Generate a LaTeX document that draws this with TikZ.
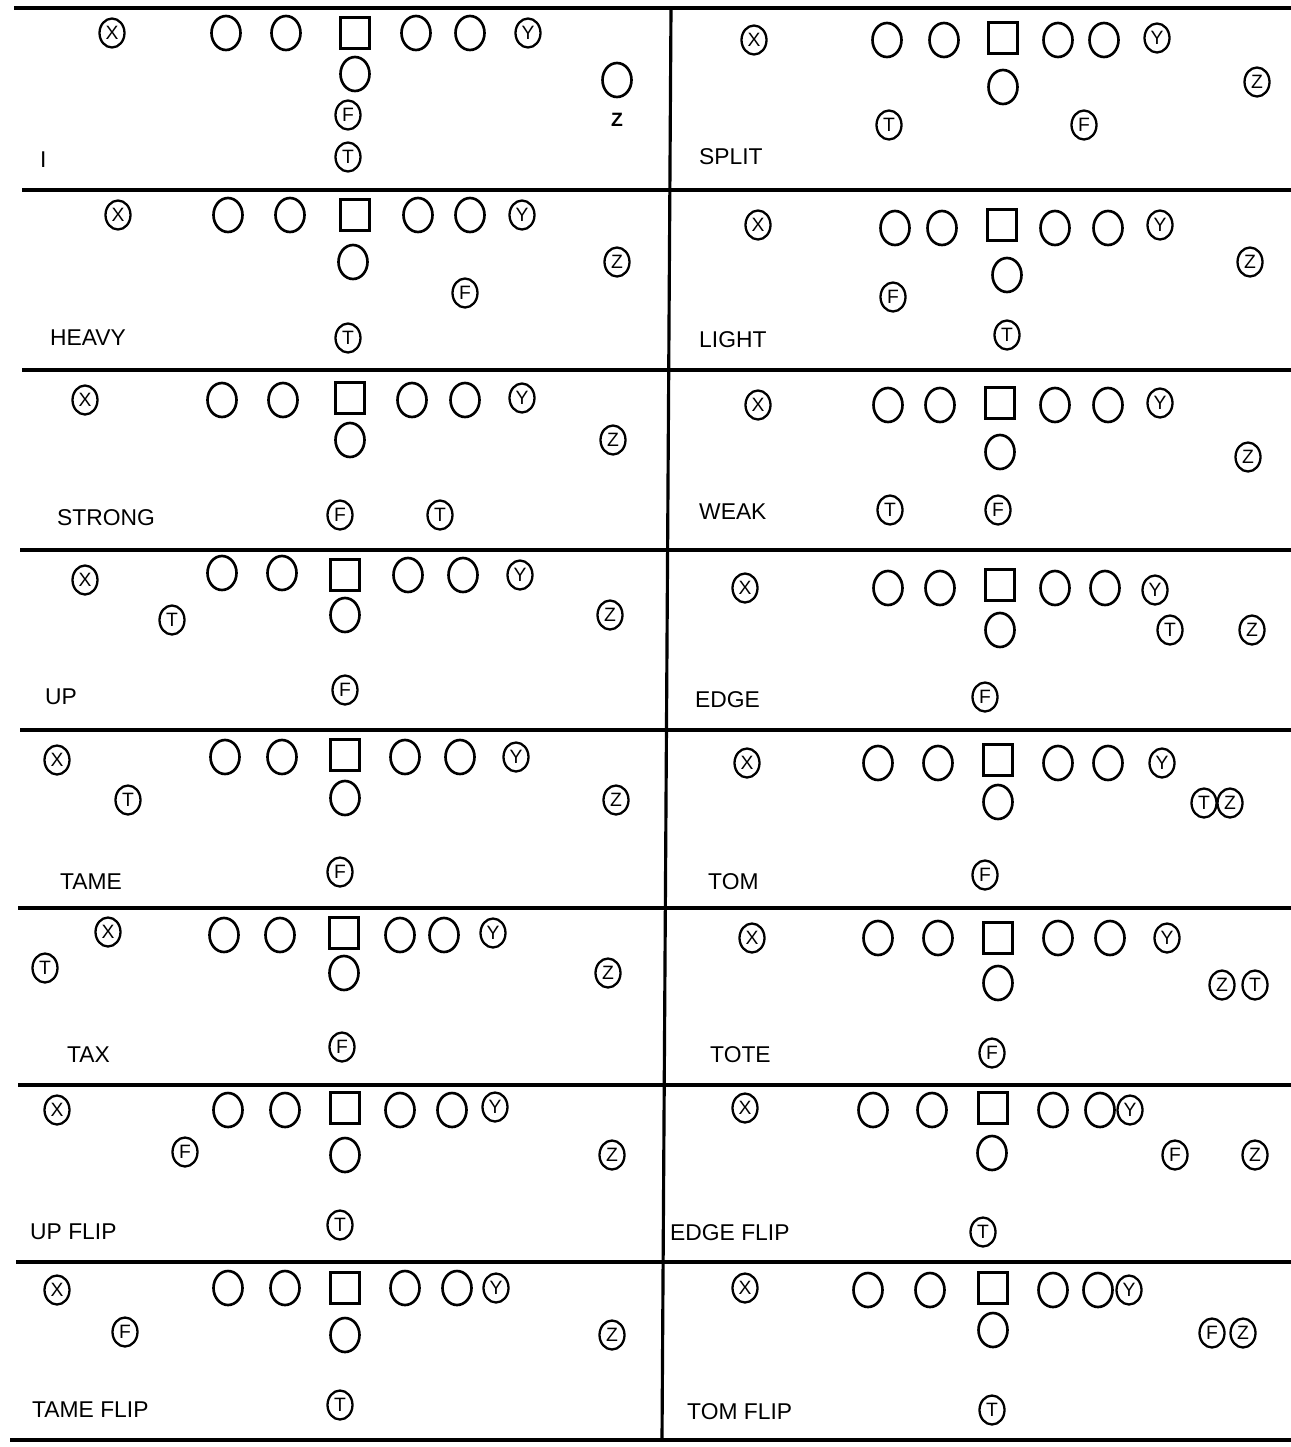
\documentclass[tikz,border=0pt]{standalone}
\usepackage{fontspec}
\setmainfont{Liberation Sans}
\usetikzlibrary{shapes.geometric}

\begin{document}
\begin{tikzpicture}[x=0.02cm, y=-0.02cm,
  lineman/.style={ellipse, draw, line width=1.5pt, minimum width=0.58cm, minimum height=0.68cm, inner sep=0pt},
  snap/.style={rectangle, draw, line width=1.5pt, minimum width=0.58cm, minimum height=0.62cm, inner sep=0pt},
  back/.style={ellipse, draw, line width=1.3pt, minimum width=0.5cm, minimum height=0.58cm, inner sep=0pt, font=\fontsize{11}{11}\selectfont},
  formation/.style={anchor=west, font=\fontsize{13}{13}\selectfont},
  yardline/.style={line width=1.8pt}
]
\useasboundingbox (0,0) rectangle (1291,1447);

% grid
\draw [yardline] (14,8) -- (1291,8);
\draw [yardline] (22,190) -- (1291,190);
\draw [yardline] (22,370) -- (1291,370);
\draw [yardline] (20,550) -- (1291,550);
\draw [yardline] (20,730) -- (1291,730);
\draw [yardline] (18,908) -- (1291,908);
\draw [yardline] (18,1085) -- (1291,1085);
\draw [yardline] (16,1262) -- (1291,1262);
\draw [yardline] (10,1440) -- (1291,1440);
\draw [yardline] (671,8) -- (662,1440);

% I
\node [back] (Ix) at (112,33) {X};
\node [lineman] (Ilt) at (226,33) {};
\node [lineman] (Ilg) at (286,33) {};
\node [snap] (Ic) at (355,33) {};
\node [lineman] (Irg) at (416,33) {};
\node [lineman] (Irt) at (470,33) {};
\node [back] (Iy) at (528,33) {Y};
\node [lineman] (Iq) at (355,74) {};
\node [back] (If) at (348,115) {F};
\node [back] (It) at (348,157) {T};
\node [lineman] (Iz) at (617,80) {};
\node [font=\bfseries\fontsize{11}{11}\selectfont] (Iztag) at (617,120) {Z};
\node [formation] (Iname) at (34,160) {I};

% SPLIT
\node [back] (splitx) at (754,40) {X};
\node [lineman] (splitlt) at (887,40) {};
\node [lineman] (splitlg) at (944,40) {};
\node [snap] (splitc) at (1003,38) {};
\node [lineman] (splitrg) at (1058,40) {};
\node [lineman] (splitrt) at (1104,40) {};
\node [back] (splity) at (1157,38) {Y};
\node [lineman] (splitq) at (1003,87) {};
\node [back] (splitz) at (1257,82) {Z};
\node [back] (splitt) at (889,125) {T};
\node [back] (splitf) at (1084,125) {F};
\node [formation] (splitname) at (693,157) {SPLIT};

% HEAVY
\node [back] (heavyx) at (118,215) {X};
\node [lineman] (heavylt) at (228,215) {};
\node [lineman] (heavylg) at (290,215) {};
\node [snap] (heavyc) at (355,215) {};
\node [lineman] (heavyrg) at (418,215) {};
\node [lineman] (heavyrt) at (470,215) {};
\node [back] (heavyy) at (522,215) {Y};
\node [lineman] (heavyq) at (353,262) {};
\node [back] (heavyz) at (617,262) {Z};
\node [back] (heavyf) at (465,293) {F};
\node [back] (heavyt) at (348,338) {T};
\node [formation] (heavyname) at (44,338) {HEAVY};

% LIGHT
\node [back] (lightx) at (758,225) {X};
\node [lineman] (lightlt) at (895,228) {};
\node [lineman] (lightlg) at (942,228) {};
\node [snap] (lightc) at (1002,225) {};
\node [lineman] (lightrg) at (1055,228) {};
\node [lineman] (lightrt) at (1108,228) {};
\node [back] (lighty) at (1160,225) {Y};
\node [lineman] (lightq) at (1007,275) {};
\node [back] (lightz) at (1250,262) {Z};
\node [back] (lightf) at (893,297) {F};
\node [back] (lightt) at (1007,335) {T};
\node [formation] (lightname) at (693,340) {LIGHT};

% STRONG
\node [back] (strongx) at (85,400) {X};
\node [lineman] (stronglt) at (222,400) {};
\node [lineman] (stronglg) at (283,400) {};
\node [snap] (strongc) at (350,398) {};
\node [lineman] (strongrg) at (412,400) {};
\node [lineman] (strongrt) at (465,400) {};
\node [back] (strongy) at (522,398) {Y};
\node [lineman] (strongq) at (350,440) {};
\node [back] (strongz) at (613,440) {Z};
\node [back] (strongf) at (340,515) {F};
\node [back] (strongt) at (440,515) {T};
\node [formation] (strongname) at (51,518) {STRONG};

% WEAK
\node [back] (weakx) at (758,405) {X};
\node [lineman] (weaklt) at (888,405) {};
\node [lineman] (weaklg) at (940,405) {};
\node [snap] (weakc) at (1000,403) {};
\node [lineman] (weakrg) at (1055,405) {};
\node [lineman] (weakrt) at (1108,405) {};
\node [back] (weaky) at (1160,403) {Y};
\node [lineman] (weakq) at (1000,452) {};
\node [back] (weakz) at (1248,457) {Z};
\node [back] (weakt) at (890,510) {T};
\node [back] (weakf) at (998,510) {F};
\node [formation] (weakname) at (693,512) {WEAK};

% UP
\node [back] (upx) at (85,580) {X};
\node [lineman] (uplt) at (222,573) {};
\node [lineman] (uplg) at (282,573) {};
\node [snap] (upc) at (345,575) {};
\node [lineman] (uprg) at (408,575) {};
\node [lineman] (uprt) at (463,575) {};
\node [back] (upy) at (520,575) {Y};
\node [back] (upt) at (172,620) {T};
\node [lineman] (upq) at (345,615) {};
\node [back] (upz) at (610,615) {Z};
\node [back] (upf) at (345,690) {F};
\node [formation] (upname) at (39,697) {UP};

% EDGE
\node [back] (edgex) at (745,588) {X};
\node [lineman] (edgelt) at (888,588) {};
\node [lineman] (edgelg) at (940,588) {};
\node [snap] (edgec) at (1000,585) {};
\node [lineman] (edgerg) at (1055,588) {};
\node [lineman] (edgert) at (1105,588) {};
\node [back] (edgey) at (1155,590) {Y};
\node [lineman] (edgeq) at (1000,630) {};
\node [back] (edget) at (1170,630) {T};
\node [back] (edgez) at (1252,630) {Z};
\node [back] (edgef) at (985,697) {F};
\node [formation] (edgename) at (689,700) {EDGE};

% TAME
\node [back] (tamex) at (57,760) {X};
\node [lineman] (tamelt) at (225,757) {};
\node [lineman] (tamelg) at (282,757) {};
\node [snap] (tamec) at (345,755) {};
\node [lineman] (tamerg) at (405,757) {};
\node [lineman] (tamert) at (460,757) {};
\node [back] (tamey) at (516,757) {Y};
\node [back] (tamet) at (128,800) {T};
\node [lineman] (tameq) at (345,798) {};
\node [back] (tamez) at (616,800) {Z};
\node [back] (tamef) at (340,872) {F};
\node [formation] (tamename) at (54,882) {TAME};

% TOM
\node [back] (tomx) at (747,763) {X};
\node [lineman] (tomlt) at (878,763) {};
\node [lineman] (tomlg) at (938,763) {};
\node [snap] (tomc) at (998,760) {};
\node [lineman] (tomrg) at (1058,763) {};
\node [lineman] (tomrt) at (1108,763) {};
\node [back] (tomy) at (1162,763) {Y};
\node [lineman] (tomq) at (998,802) {};
\node [back] (tomt) at (1204,803) {T};
\node [back] (tomz) at (1230,803) {Z};
\node [back] (tomf) at (985,875) {F};
\node [formation] (tomname) at (702,882) {TOM};

% TAX
\node [back] (taxx) at (108,932) {X};
\node [lineman] (taxlt) at (224,935) {};
\node [lineman] (taxlg) at (280,935) {};
\node [snap] (taxc) at (344,933) {};
\node [lineman] (taxrg) at (400,935) {};
\node [lineman] (taxrt) at (444,935) {};
\node [back] (taxy) at (493,933) {Y};
\node [back] (taxt) at (45,968) {T};
\node [lineman] (taxq) at (344,973) {};
\node [back] (taxz) at (608,973) {Z};
\node [back] (taxf) at (342,1047) {F};
\node [formation] (taxname) at (61,1055) {TAX};

% TOTE
\node [back] (totex) at (752,938) {X};
\node [lineman] (totelt) at (878,938) {};
\node [lineman] (totelg) at (938,938) {};
\node [snap] (totec) at (998,938) {};
\node [lineman] (toterg) at (1058,938) {};
\node [lineman] (totert) at (1110,938) {};
\node [back] (totey) at (1167,938) {Y};
\node [lineman] (toteq) at (998,983) {};
\node [back] (totez) at (1222,985) {Z};
\node [back] (totet) at (1255,985) {T};
\node [back] (totef) at (992,1053) {F};
\node [formation] (totename) at (704,1055) {TOTE};

% UP FLIP
\node [back] (upflipx) at (57,1110) {X};
\node [lineman] (upfliplt) at (228,1110) {};
\node [lineman] (upfliplg) at (285,1110) {};
\node [snap] (upflipc) at (345,1108) {};
\node [lineman] (upfliprg) at (400,1110) {};
\node [lineman] (upfliprt) at (452,1110) {};
\node [back] (upflipy) at (495,1107) {Y};
\node [back] (upflipf) at (185,1152) {F};
\node [lineman] (upflipq) at (345,1155) {};
\node [back] (upflipz) at (612,1155) {Z};
\node [back] (upflipt) at (340,1225) {T};
\node [formation] (upflipname) at (24,1232) {UP FLIP};

% EDGE FLIP
\node [back] (edgeflipx) at (745,1108) {X};
\node [lineman] (edgefliplt) at (873,1110) {};
\node [lineman] (edgefliplg) at (932,1110) {};
\node [snap] (edgeflipc) at (993,1108) {};
\node [lineman] (edgefliprg) at (1053,1110) {};
\node [lineman] (edgefliprt) at (1100,1110) {};
\node [back] (edgeflipy) at (1130,1110) {Y};
\node [lineman] (edgeflipq) at (992,1153) {};
\node [back] (edgeflipf) at (1175,1155) {F};
\node [back] (edgeflipz) at (1255,1155) {Z};
\node [back] (edgeflipt) at (983,1232) {T};
\node [formation] (edgeflipname) at (664,1233) {EDGE FLIP};

% TAME FLIP
\node [back] (tameflipx) at (57,1290) {X};
\node [lineman] (tamefliplt) at (228,1288) {};
\node [lineman] (tamefliplg) at (285,1288) {};
\node [snap] (tameflipc) at (345,1288) {};
\node [lineman] (tamefliprg) at (405,1288) {};
\node [lineman] (tamefliprt) at (457,1288) {};
\node [back] (tameflipy) at (496,1288) {Y};
\node [back] (tameflipf) at (125,1332) {F};
\node [lineman] (tameflipq) at (345,1335) {};
\node [back] (tameflipz) at (612,1335) {Z};
\node [back] (tameflipt) at (340,1405) {T};
\node [formation] (tameflipname) at (26,1410) {TAME FLIP};

% TOM FLIP
\node [back] (tomflipx) at (745,1288) {X};
\node [lineman] (tomfliplt) at (868,1290) {};
\node [lineman] (tomfliplg) at (930,1290) {};
\node [snap] (tomflipc) at (993,1288) {};
\node [lineman] (tomfliprg) at (1053,1290) {};
\node [lineman] (tomfliprt) at (1098,1290) {};
\node [back] (tomflipy) at (1129,1290) {Y};
\node [lineman] (tomflipq) at (993,1330) {};
\node [back] (tomflipf) at (1212,1333) {F};
\node [back] (tomflipz) at (1243,1333) {Z};
\node [back] (tomflipt) at (992,1410) {T};
\node [formation] (tomflipname) at (681,1412) {TOM FLIP};
\end{tikzpicture}
\end{document}
